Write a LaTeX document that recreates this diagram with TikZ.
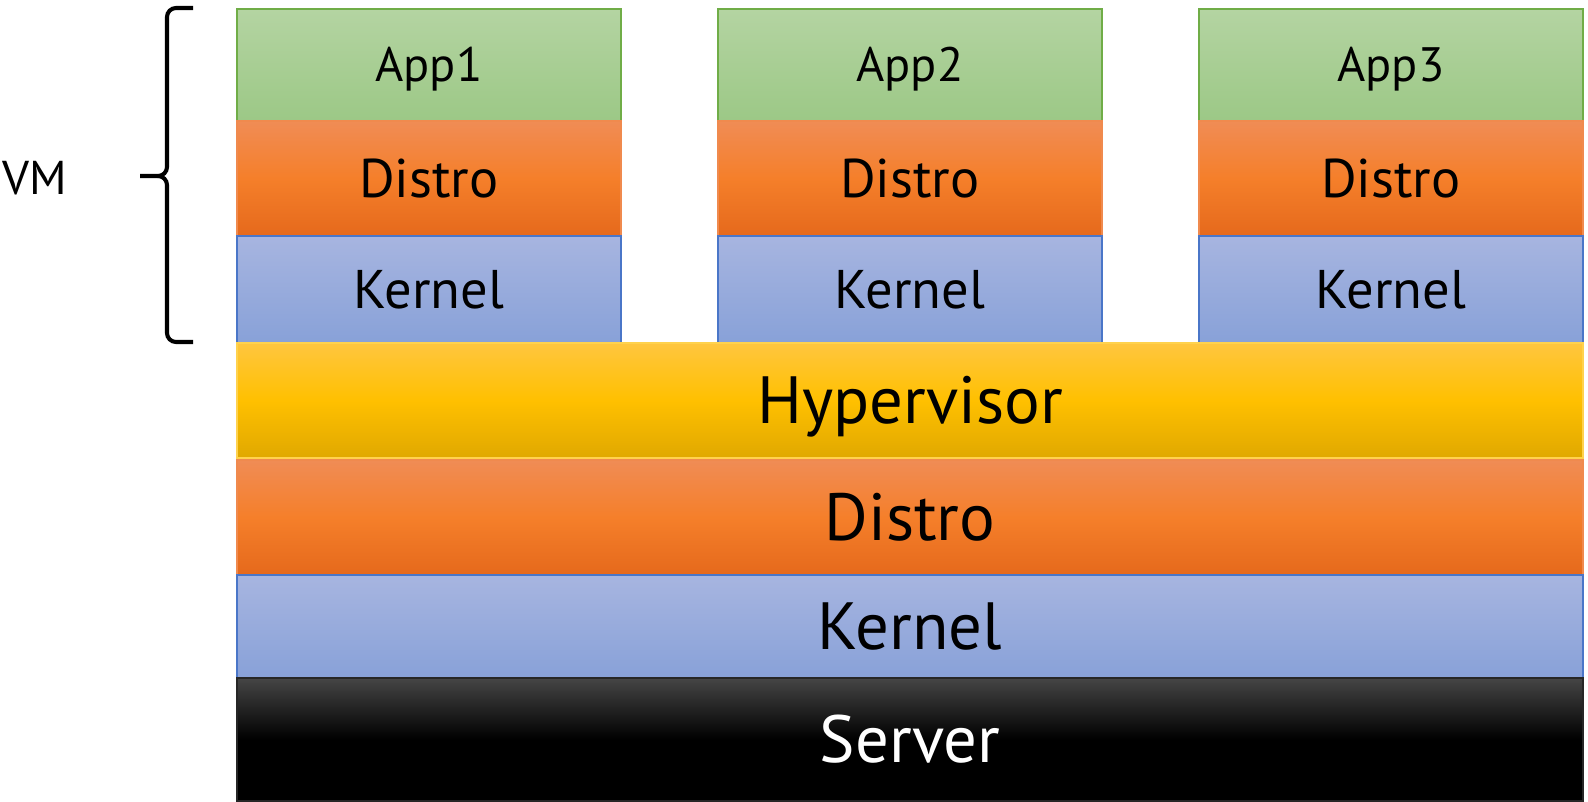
\documentclass[tikz,border=0pt]{standalone}
\usepackage{fontspec}
\setmainfont{PT Sans}
\usetikzlibrary{positioning}

% layer colours
\definecolor{apptop}{HTML}{B4D4A2}
\definecolor{appbot}{HTML}{9CC886}
\definecolor{appedge}{HTML}{70AD47}
\definecolor{distrotop}{HTML}{F08C55}
\definecolor{distromid}{HTML}{F57F2A}
\definecolor{distrobot}{HTML}{E5691C}
\definecolor{distroedge}{HTML}{F08A4E}
\definecolor{kerneltop}{HTML}{A7B5E0}
\definecolor{kernelbot}{HTML}{88A1D8}
\definecolor{kerneledge}{HTML}{4A76C8}
\definecolor{hypertop}{HTML}{FFC63F}
\definecolor{hypermid}{HTML}{FFC000}
\definecolor{hyperbot}{HTML}{E0A800}
\definecolor{hyperedge}{HTML}{FFD24D}
\definecolor{servertop}{HTML}{454545}
\definecolor{servermid}{HTML}{000000}

\tikzset{
  layer/.style={rectangle, line width=0.6pt, inner sep=0pt, outer sep=0pt, text=black, text depth=0pt},
  vmbox/.style={layer, minimum width=7.68cm, font=\fontsize{31}{36}\selectfont, text height=21.7pt},
  hostbox/.style={layer, minimum width=26.92cm, font=\fontsize{38}{44}\selectfont, text height=26.6pt},
  apppart/.style={draw=appedge, top color=apptop, bottom color=appbot, minimum height=2.24cm,
    font=\fontsize{27.5}{32}\selectfont, text height=19.25pt},
  distropart/.style={draw=distroedge, top color=distrotop, bottom color=distrobot, middle color=distromid},
  kernelpart/.style={draw=kerneledge, top color=kerneltop, bottom color=kernelbot},
  hyperpart/.style={draw=hyperedge, top color=hypertop, bottom color=hyperbot, middle color=hypermid},
  serverpart/.style={draw=black!85, top color=servertop, bottom color=black, middle color=servermid, text=white},
}

\begin{document}
\begin{tikzpicture}
  \useasboundingbox (0,0) rectangle (31.76,-16.02);

  % three virtual machines
  \node[vmbox, apppart, anchor=north west] (app1) at (4.74,-0.18) {App1};
  \node[vmbox, apppart, anchor=north west] (app2) at (14.36,-0.18) {App2};
  \node[vmbox, apppart, anchor=north west] (app3) at (23.98,-0.18) {App3};

  \node[vmbox, distropart, minimum height=2.30cm, below=0pt of app1] (distro1) {Distro};
  \node[vmbox, distropart, minimum height=2.30cm, below=0pt of app2] (distro2) {Distro};
  \node[vmbox, distropart, minimum height=2.30cm, below=0pt of app3] (distro3) {Distro};

  \node[vmbox, kernelpart, minimum height=2.14cm, below=0pt of distro1] (kernel1) {Kernel};
  \node[vmbox, kernelpart, minimum height=2.14cm, below=0pt of distro2] (kernel2) {Kernel};
  \node[vmbox, kernelpart, minimum height=2.14cm, below=0pt of distro3] (kernel3) {Kernel};

  % host stack
  \node[hostbox, hyperpart, minimum height=2.30cm, anchor=north west] (hyper) at (4.74,-6.86) {Hypervisor};
  \node[hostbox, distropart, minimum height=2.30cm, below=0.04cm of hyper] (hostdistro) {Distro};
  \node[hostbox, kernelpart, minimum height=2.06cm, below=0pt of hostdistro] (hostkernel) {Kernel};
  \node[hostbox, serverpart, minimum height=2.46cm, below=0pt of hostkernel] (server) {Server};

  % brace around one VM
  \node[font=\fontsize{27}{32}\selectfont] (vm) at (0.70,-3.56) {VM};
  \draw[line width=2.3pt] (3.86,-0.16) -- (3.52,-0.16) to[out=180,in=90] (3.34,-0.34)
    -- (3.34,-3.34) to[out=-90,in=0] (3.16,-3.52) -- (2.80,-3.52);
  \draw[line width=2.3pt] (3.86,-6.84) -- (3.52,-6.84) to[out=180,in=-90] (3.34,-6.66)
    -- (3.34,-3.70) to[out=90,in=0] (3.16,-3.52);
\end{tikzpicture}
\end{document}
